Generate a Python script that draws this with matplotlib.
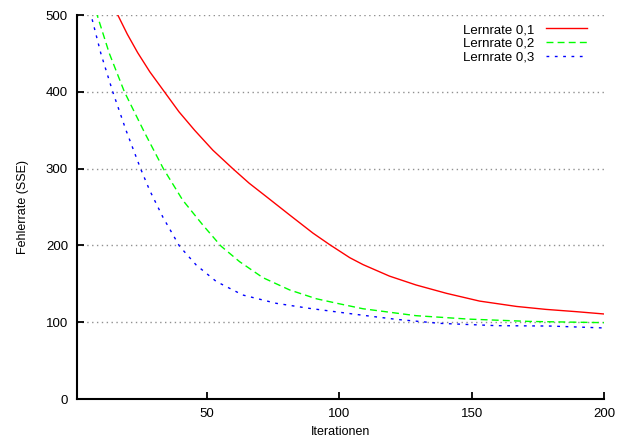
import matplotlib
matplotlib.use("Agg")
import matplotlib.pyplot as plt

# Lernrate 0,1
x1 = [15.8, 16.4, 20, 23.9, 28.5, 34, 39.5, 45.4, 52.3, 59.8, 66, 72.5, 81.3, 90.1, 96.4, 104, 109, 119, 129, 140.5, 153, 167, 178, 189.6, 200]
y1 = [506, 500, 475, 451, 426, 400, 374, 350, 324, 300, 281, 263.5, 239.6, 216, 201, 184, 175, 160, 148.5, 137.6, 127.5, 120.5, 116.7, 113.7, 110.7]

# Lernrate 0,2
x2 = [8.2, 8.6, 13.2, 18.9, 26.5, 33.6, 40.9, 48.5, 55.4, 62.4, 71.2, 81.3, 91.4, 100, 109, 129, 149, 172, 200]
y2 = [505, 500, 450, 400, 347, 300, 259, 226.6, 199, 178.8, 158, 142, 130.5, 124, 117.5, 108.5, 104, 101, 99.4]

# Lernrate 0,3
x3 = [6.0, 6.3, 10, 14.5, 19.5, 25, 28.4, 33.4, 39.7, 46, 53.6, 63.6, 76.2, 88.8, 100, 109, 121.6, 138, 159.4, 179.6, 200]
y3 = [505, 500, 450, 400, 350, 300, 272, 237, 199, 174.5, 153, 135.4, 124.6, 118, 113, 109, 103.7, 98.5, 95.5, 95, 92.5]

labels = ["Lernrate 0,1", "Lernrate 0,2", "Lernrate 0,3"]
yticks = [0, 100, 200, 300, 400, 500]
xticks = [50, 100, 150, 200]

plt.rcParams['font.family'] = ['Liberation Sans', 'DejaVu Sans']
plt.rcParams['font.size'] = 9

fig = plt.figure(figsize=(6.19, 4.44), dpi=100)
ax = fig.add_axes([77 / 619, 1 - 399 / 444, 527 / 619, 384 / 444])

ax.plot(x1, y1, color='#ff0000', lw=1.0, label=labels[0])
ax.plot(x2, y2, color='#00ff00', lw=1.0, dashes=(5, 3), label=labels[1])
ax.plot(x3, y3, color='#0000ff', lw=1.0, dashes=(2, 4), label=labels[2])

ax.set_xlim(1, 200)
ax.set_ylim(0, 500)
ax.set_xticks(xticks)
ax.set_yticks(yticks)
ax.yaxis.grid(True, color='#909090', lw=1.0, dashes=(1, 2.5))
ax.set_axisbelow(True)

for s in ['top', 'right']:
    ax.spines[s].set_visible(False)
for s in ['left', 'bottom']:
    ax.spines[s].set_linewidth(1.5)
ax.tick_params(direction='in', length=5, width=1.3, pad=6.5, labelsize=9.5)

ax.set_xlabel("Iterationen", labelpad=4)
ax.set_ylabel("Fehlerrate (SSE)", labelpad=12)

ax.legend(loc='upper right', bbox_to_anchor=(0.968, 0.977), frameon=False,
          markerfirst=False, handlelength=3.1, handletextpad=0.9,
          labelspacing=0.1, borderpad=0, borderaxespad=0, fontsize=9.5)

fig.savefig("out.png", dpi=100)
